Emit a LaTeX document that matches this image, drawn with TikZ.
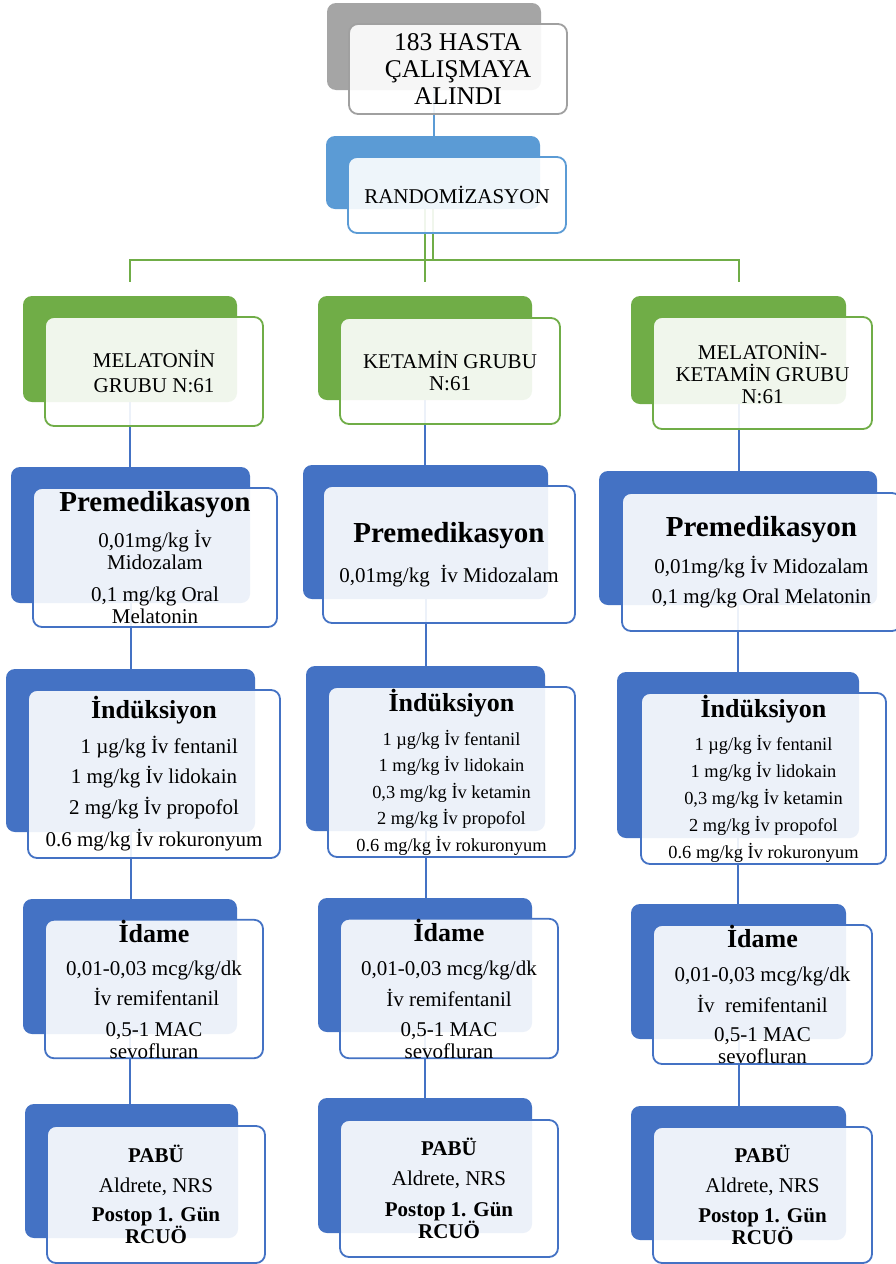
\documentclass[tikz,border=0pt]{standalone}
\usepackage{fontspec}
\setmainfont{Liberation Serif}
\pgfdeclarelayer{bg}
\pgfsetlayers{bg,main}
\definecolor{cgray}{HTML}{A5A5A5}
\definecolor{cgrayline}{HTML}{A0A0A0}
\definecolor{cblueL}{HTML}{5B9BD5}
\definecolor{cgreen}{HTML}{70AD47}
\definecolor{cblue}{HTML}{4472C4}
\newcommand\fsz[2]{\fontsize{#1}{#2}\selectfont}
\newcommand\ttlA{\fsz{29}{31}\bfseries}
\newcommand\ttlB{\fsz{26}{28}\bfseries}
\tikzset{
  backbox/.style={rectangle, rounded corners=9pt, fill=#1, draw=none, inner sep=0pt},
  frontbox/.style={rectangle, rounded corners=9pt, draw=#1, line width=1.8pt, fill=white,
    fill opacity=0.9, text opacity=1, inner sep=0pt, align=center, font=\fsz{21}{22}},
  link/.style={draw=#1, line width=2pt},
}
\begin{document}
\begin{tikzpicture}[x=1pt,y=-1pt]
\useasboundingbox (0,0) rectangle (895,1264);
% ---------- top ----------
\node[backbox=cgray, minimum width=214pt, minimum height=87pt] (tb) at (434,46.5) {};
\node[frontbox=cgrayline, minimum width=218pt, minimum height=90pt, font=\fsz{25.5}{27}] (tf) at (458,69) {183 HASTA\\ÇALIŞMAYA\\ALINDI};
\node[backbox=cblueL, minimum width=214pt, minimum height=73pt] (rb) at (433,172.5) {};
\node[frontbox=cblueL, minimum width=218pt, minimum height=76pt] (rf) at (457,195) {RANDOMİZASYON};
% ---------- groups ----------
\node[backbox=cgreen, minimum width=214pt, minimum height=106pt] (g1b) at (130,349) {};
\node[frontbox=cgreen, minimum width=218pt, minimum height=109pt] (g1f) at (154,371.5) {MELATONİN\\[3pt]GRUBU N:61};
\node[backbox=cgreen, minimum width=214pt, minimum height=104pt] (g2b) at (425,348) {};
\node[frontbox=cgreen, minimum width=220pt, minimum height=106pt] (g2f) at (450,371) {KETAMİN GRUBU\\N:61};
\node[backbox=cgreen, minimum width=215pt, minimum height=108pt] (g3b) at (738.5,350) {};
\node[frontbox=cgreen, minimum width=219pt, minimum height=112pt] (g3f) at (762.5,373) {MELATONİN-\\KETAMİN GRUBU\\N:61};
% ---------- premedikasyon ----------
\node[backbox=cblue, minimum width=239pt, minimum height=136pt] (p1b) at (130.5,535) {};
\node[frontbox=cblue, minimum width=244pt, minimum height=139pt] (p1f) at (155,557.5) {{\ttlA Premedikasyon}\\[12pt]0,01mg/kg İv\\Midozalam\\[10pt]0,1 mg/kg Oral\\Melatonin};
\node[backbox=cblue, minimum width=245pt, minimum height=134pt] (p2b) at (425.5,532) {};
\node[frontbox=cblue, minimum width=252pt, minimum height=137pt] (p2f) at (449,554.5) {{\ttlA Premedikasyon}\\[15pt]0,01mg/kg\ \ İv Midozalam};
\node[backbox=cblue, minimum width=278pt, minimum height=134pt] (p3b) at (738,538) {};
\node[frontbox=cblue, minimum width=279pt, minimum height=138pt] (p3f) at (761.5,562) {{\ttlA Premedikasyon}\\[12pt]0,01mg/kg İv Midozalam\\[8pt]0,1 mg/kg Oral Melatonin};
% ---------- induksiyon ----------
\node[backbox=cblue, minimum width=249pt, minimum height=163pt] (i1b) at (130.5,750.5) {};
\node[frontbox=cblue, minimum width=252pt, minimum height=168pt] (i1f) at (154,774) {{\ttlB İndüksiyon}\\[11pt]\ \ 1 µg/kg İv fentanil\\[8pt]1 mg/kg İv lidokain\\[9pt]2 mg/kg İv propofol\\[10pt]0.6 mg/kg İv rokuronyum};
\node[backbox=cblue, minimum width=239pt, minimum height=165pt] (i2b) at (425.5,748.5) {};
\node[frontbox=cblue, minimum width=247pt, minimum height=170pt, font=\fsz{18.4}{20}] (i2f) at (451.5,772) {{\ttlB İndüksiyon}\\[12pt]1 µg/kg İv fentanil\\[6.5pt]1 mg/kg İv lidokain\\[6.5pt]0,3 mg/kg İv ketamin\\[6.5pt]2 mg/kg İv propofol\\[6.5pt]0.6 mg/kg İv rokuronyum};
\node[backbox=cblue, minimum width=242pt, minimum height=166pt] (i3b) at (738,755) {};
\node[frontbox=cblue, minimum width=245pt, minimum height=171pt, font=\fsz{18.4}{20}] (i3f) at (763.5,778.5) {{\ttlB İndüksiyon}\\[11pt]1 µg/kg İv fentanil\\[7pt]1 mg/kg İv lidokain\\[7pt]0,3 mg/kg İv ketamin\\[7pt]2 mg/kg İv propofol\\[7pt]0.6 mg/kg İv rokuronyum};
% ---------- idame ----------
\node[backbox=cblue, minimum width=214pt, minimum height=135pt] (d1b) at (130,966.5) {};
\node[frontbox=cblue, minimum width=218pt, minimum height=138pt] (d1f) at (154,989) {{\ttlB İdame}\\[11pt]0,01-0,03 mcg/kg/dk\\[8pt]\ İv remifentanil\\[9pt]0,5-1 MAC\\sevofluran};
\node[backbox=cblue, minimum width=214pt, minimum height=134pt] (d2b) at (425,965) {};
\node[frontbox=cblue, minimum width=218pt, minimum height=137pt] (d2f) at (449,988.5) {{\ttlB İdame}\\[12pt]0,01-0,03 mcg/kg/dk\\[9pt]İv remifentanil\\[8pt]0,5-1 MAC\\sevofluran};
\node[backbox=cblue, minimum width=215pt, minimum height=135pt] (d3b) at (738.5,971.5) {};
\node[frontbox=cblue, minimum width=219pt, minimum height=139pt] (d3f) at (762.5,994.5) {{\ttlB İdame}\\[12pt]0,01-0,03 mcg/kg/dk\\[9pt]İv\ \ remifentanil\\[7pt]0,5-1 MAC\\sevofluran};
% ---------- PABU ----------
\node[backbox=cblue, minimum width=213pt, minimum height=134pt] (a1b) at (131.5,1171) {};
\node[frontbox=cblue, minimum width=218pt, minimum height=137pt] (a1f) at (156,1194.5) {{\bfseries PABÜ}\\[8pt]Aldrete, NRS\\[7pt]{\bfseries Postop 1. Gün}\\{\bfseries RCUÖ}};
\node[backbox=cblue, minimum width=214pt, minimum height=135pt] (a2b) at (425,1165.5) {};
\node[frontbox=cblue, minimum width=218pt, minimum height=137pt] (a2f) at (449,1188.5) {{\bfseries PABÜ}\\[8pt]Aldrete, NRS\\[9pt]{\bfseries Postop 1. Gün}\\{\bfseries RCUÖ}};
\node[backbox=cblue, minimum width=215pt, minimum height=134pt] (a3b) at (738.5,1173) {};
\node[frontbox=cblue, minimum width=219pt, minimum height=136pt] (a3f) at (762.5,1195) {{\bfseries PABÜ}\\[8pt]Aldrete, NRS\\[8pt]{\bfseries Postop 1. Gün}\\{\bfseries RCUÖ}};
% ---------- connectors ----------
\begin{pgfonlayer}{bg}
\fill[white] (0,0) rectangle (895,1264);
\draw[link=cblueL] (tb.south) -- (tb.south |- rb.north);
\coordinate (hub) at (rb.south |- 0,260);
\draw[link=cgreen] (rb.south) -- (hub);
\draw[link=cgreen, shorten >=14pt] (hub) -| (g1b.north);
\draw[link=cgreen, shorten >=14pt] (hub) -| (g3b.north);
\draw[link=cgreen, shorten >=14pt] (rb.south -| g2b.north) -- (g2b.north);
\draw[link=cgreen] (hub) -- (hub -| g2b.north);
\foreach \c in {1,2,3}{
  \draw[link=cblue] (g\c b.south) -- (g\c b.south |- p\c b.north);
  \draw[link=cblue] (p\c b.south) -- (p\c b.south |- i\c b.north);
  \draw[link=cblue] (i\c b.south) -- (i\c b.south |- d\c b.north);
  \draw[link=cblue] (d\c b.south) -- (d\c b.south |- a\c b.north);
}
\end{pgfonlayer}
\end{tikzpicture}
\end{document}
